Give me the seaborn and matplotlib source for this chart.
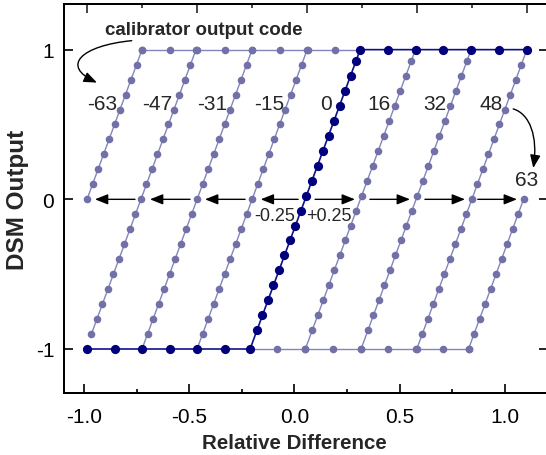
import matplotlib
matplotlib.use("Agg")
import matplotlib.pyplot as plt
import seaborn as sns
import pandas as pd
from matplotlib.patches import FancyArrowPatch
from matplotlib.path import Path

# ---------------- data ----------------
codes = ["-63", "-47", "-31", "-15", "16", "32", "48", "63"]
zero_x = [-1.0, -0.755, -0.5, -0.25, 0.242, 0.495, 0.748, 0.983]
profile = ["A", "A", "A", "A", "B", "B", "A", "A"]

ramp_a_y = [-1.0, -0.9, -0.8, -0.7, -0.6, -0.5, -0.4, -0.3, -0.2, -0.1, 0.0,
            0.1, 0.2, 0.3, 0.4, 0.5, 0.6, 0.7, 0.8, 0.9, 1.0]
ramp_a_dx = [-0.25, -0.225, -0.2, -0.175, -0.15, -0.125, -0.1, -0.075, -0.05, -0.025, 0.0,
             0.025, 0.05, 0.075, 0.1, 0.125, 0.15, 0.175, 0.2, 0.225, 0.25]
ramp_b_y = [-1.0, -0.875, -0.775, -0.675, -0.575, -0.475, -0.375, -0.275, -0.175, -0.075,
            0.025, 0.125, 0.225, 0.325, 0.425, 0.525, 0.625, 0.725, 0.825, 0.925, 1.0]
ramp_b_dx = [-0.25, -0.219, -0.194, -0.169, -0.144, -0.119, -0.094, -0.069, -0.044, -0.019,
             0.006, 0.031, 0.056, 0.081, 0.106, 0.131, 0.156, 0.181, 0.206, 0.231, 0.25]

dark_zero = -0.009
dark_bot_x = [-1.0, -0.873, -0.75, -0.625, -0.5, -0.375, -0.259]
dark_top_x = [0.241, 0.367, 0.493, 0.619, 0.744, 0.871, 1.0]
light_top_x = [-0.75, -0.625, -0.5, -0.375, -0.25, -0.125, 0.005, 0.125, 0.241]
light_bot_x = [-0.259, -0.135, -0.009, 0.117, 0.244, 0.369, 0.495, 0.615, 0.733]

label_x = [-0.933, -0.683, -0.431, -0.174, 0.087, 0.328, 0.581, 0.834, 0.997]
label_y = [0.643, 0.643, 0.643, 0.643, 0.643, 0.643, 0.643, 0.643, 0.13]
label_txt = ["-63", "-47", "-31", "-15", "0", "16", "32", "48", "63"]

left_tail = [-0.782, -0.532, -0.282, -0.041]
left_tip = [-0.964, -0.714, -0.464, -0.211]
right_tail = [0.036, 0.285, 0.535, 0.775]
right_tip = [0.217, 0.467, 0.717, 0.953]

xticks_bottom = [-1.0, -0.5, 0.0, 0.5, 1.0]
xtick_labels = ["-1.0", "-0.5", "0.0", "0.5", "1.0"]
yticks = [-1, 0, 1]
ytick_labels = ["-1", "0", "1"]

# ---------------- build tables ----------------
ramps = {"A": (ramp_a_y, ramp_a_dx), "B": (ramp_b_y, ramp_b_dx)}
rows = []
for code, z, p in zip(codes, zero_x, profile):
    ys, dxs = ramps[p]
    for yv, dx in zip(ys, dxs):
        xv = z + dx
        if -1.0 - 1e-6 <= xv <= 1.0 + 1e-6:
            rows.append({"x": xv, "y": yv, "seg": "ramp" + code})
for xv in light_top_x:
    rows.append({"x": xv, "y": 1.0, "seg": "top"})
for xv in light_bot_x:
    rows.append({"x": xv, "y": -1.0, "seg": "bot"})
light_df = pd.DataFrame(rows)

drows = [{"x": xv, "y": -1.0} for xv in dark_bot_x[:-1]]
ys, dxs = ramps["B"]
drows += [{"x": dark_zero + dx, "y": yv} for yv, dx in zip(ys, dxs)]
drows += [{"x": xv, "y": 1.0} for xv in dark_top_x[1:]]
dark_df = pd.DataFrame(drows)
dark_df["seg"] = "dark"

# ---------------- styling ----------------
sns.set_style("white")
plt.rcParams["font.family"] = ["Liberation Sans", "DejaVu Sans"]

LIGHT_LINE = "#8585bd"
LIGHT_PT = "#7171a8"
DARK_LINE = "#10108a"
DARK_PT = "#00007d"

fig = plt.figure(figsize=(5.46, 4.56), dpi=100)
ax = fig.add_axes([64 / 546, 62 / 456, 484 / 546, 389 / 456])
axt = ax.twiny()

sns.lineplot(data=light_df, x="x", y="y", units="seg", estimator=None, sort=False,
             color=LIGHT_LINE, lw=1.0, ax=axt, legend=False)
sns.scatterplot(data=light_df, x="x", y="y", color=LIGHT_PT, s=30, linewidth=0,
                ax=axt, legend=False, zorder=3)
sns.lineplot(data=dark_df, x="x", y="y", units="seg", estimator=None, sort=False,
             color=DARK_LINE, lw=1.2, ax=axt, legend=False, zorder=4)
sns.scatterplot(data=dark_df, x="x", y="y", color=DARK_PT, s=44, linewidth=0,
                ax=axt, legend=False, zorder=5)

ax.set_xlim(-1.095, 1.2043)
ax.set_ylim(-1.294, 1.305)
axt.set_xlim(-1.1045, 1.094)
axt.set_ylim(-1.294, 1.305)

# axes / ticks
for a in (ax, axt):
    for sp in a.spines.values():
        sp.set_linewidth(1.4)
        sp.set_color("black")
ax.set_xticks(xticks_bottom)
ax.set_xticklabels(xtick_labels)
ax.set_xticks([-0.75, -0.25, 0.25, 0.75], minor=True)
ax.set_yticks(yticks)
ax.set_yticklabels(ytick_labels)
ax.set_yticks([-0.5, 0.5], minor=True)
ax.tick_params(axis="both", which="both", direction="in", colors="black",
               labelsize=15, width=1.2)
ax.tick_params(axis="both", which="major", length=6.5)
ax.tick_params(axis="both", which="minor", length=3.2)
ax.tick_params(axis="x", top=False, bottom=True, pad=10)
ax.tick_params(axis="y", left=True, right=True, labelright=False, pad=7)
axt.set_xticks([-1.0, -0.5, 0.0, 0.5, 1.0])
axt.set_xticks([-0.75, -0.25, 0.25, 0.75], minor=True)
axt.tick_params(axis="x", which="both", direction="in", top=True, bottom=False,
                labeltop=False, labelbottom=False, width=1.2)
axt.tick_params(axis="x", which="major", length=6.5)
axt.tick_params(axis="x", which="minor", length=3.2)
axt.set_xlabel("")
axt.set_ylabel("")

ax.set_xlabel("Relative Difference", fontsize=14.8, fontweight="bold")
ax.set_ylabel("DSM Output", fontsize=17.5, fontweight="bold")
ax.xaxis.set_label_coords(0.475, -0.104)
ax.yaxis.set_label_coords(-0.073, 0.5)

# code labels
for tx, ty, t in zip(label_x, label_y, label_txt):
    axt.text(tx, ty, t, fontsize=15, ha="center", va="center", zorder=6)
axt.text(-0.47, 1.132, "calibrator output code", fontsize=13.5, fontweight="bold",
         ha="center", va="center")
axt.text(-0.146, -0.109, "-0.25", fontsize=13, ha="center", va="center")
axt.text(0.097, -0.109, "+0.25", fontsize=13, ha="center", va="center")

# straight arrows at y=0
astyle = dict(arrowstyle="-|>,head_length=0.6,head_width=0.24", color="black", lw=1.0,
              mutation_scale=13, shrinkA=0, shrinkB=0)
for t0, t1 in zip(left_tail + right_tail, left_tip + right_tip):
    axt.annotate("", xy=(t1, 0.0), xytext=(t0, 0.0), arrowprops=astyle, zorder=2)

# curved arrows
curve_paths = [
    [(-0.797, 1.060), (-1.024, 1.027), (-1.123, 0.893), (-0.955, 0.78)],
    [(0.936, 0.604), (1.012, 0.571), (1.049, 0.417), (1.027, 0.209)],
]
for verts in curve_paths:
    p = Path(verts, [Path.MOVETO, Path.CURVE4, Path.CURVE4, Path.CURVE4])
    arr = FancyArrowPatch(path=p, arrowstyle="-|>,head_length=0.6,head_width=0.24",
                          mutation_scale=13, lw=1.0, color="black",
                          transform=axt.transData, clip_on=False, zorder=6)
    axt.add_patch(arr)

fig.savefig("out.png", dpi=100)
